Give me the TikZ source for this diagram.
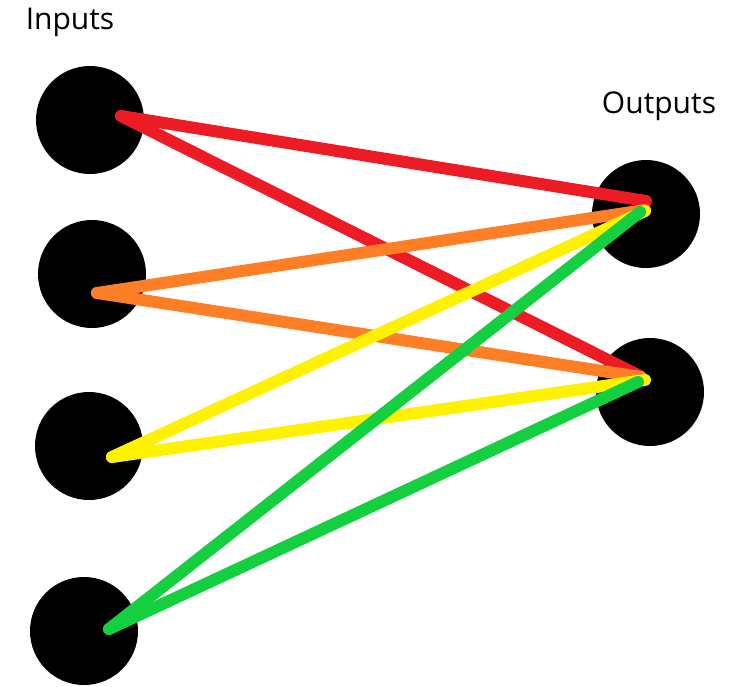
\documentclass[tikz,border=0pt]{standalone}
\usepackage{fontspec}
\setmainfont{Open Sans}
\definecolor{cred}{RGB}{237,28,36}
\definecolor{corange}{RGB}{255,127,39}
\definecolor{cyellow}{RGB}{255,242,0}
\definecolor{cgreen}{RGB}{20,208,64}
\begin{document}
\begin{tikzpicture}[x=1pt,y=-1pt,
  neuron/.style={circle,fill=black,minimum size=108pt,inner sep=0pt},
  wire/.style={line width=12pt,line cap=round,line join=round},
  lbl/.style={font=\fontsize{30}{36}\selectfont,inner sep=0pt}]
\useasboundingbox (0,0) rectangle (731,686);
\node[neuron] (i1) at (90,120) {};
\node[neuron] (i2) at (92,274) {};
\node[neuron] (i3) at (89,446) {};
\node[neuron] (i4) at (84,631) {};
\node[neuron] (o1) at (646,214) {};
\node[neuron] (o2) at (650,392) {};
\node[lbl] (tin) at (70,22) {Inputs};
\node[lbl] (tout) at (659,106) {Outputs};
\coordinate (a1) at (121,116);
\coordinate (a2) at (97,293);
\coordinate (a3) at (112,457);
\coordinate (a4) at (109,629);
\coordinate (b1r) at (646,201);
\coordinate (b1o) at (645,210);
\coordinate (b1y) at (645,211);
\coordinate (b1g) at (640,212);
\coordinate (b2r) at (640,376);
\coordinate (b2o) at (641,377);
\coordinate (b2y) at (645,380);
\coordinate (b2g) at (638,382);
\draw[wire,cred] (a1) -- (b1r);
\draw[wire,cred] (a1) -- (b2r);
\draw[wire,corange] (a2) -- (b1o);
\draw[wire,corange] (a2) -- (b2o);
\draw[wire,cyellow] (a3) -- (b1y);
\draw[wire,cyellow] (a3) -- (b2y);
\draw[wire,cgreen] (a4) -- (b1g);
\draw[wire,cgreen] (a4) -- (b2g);
\end{tikzpicture}
\end{document}
